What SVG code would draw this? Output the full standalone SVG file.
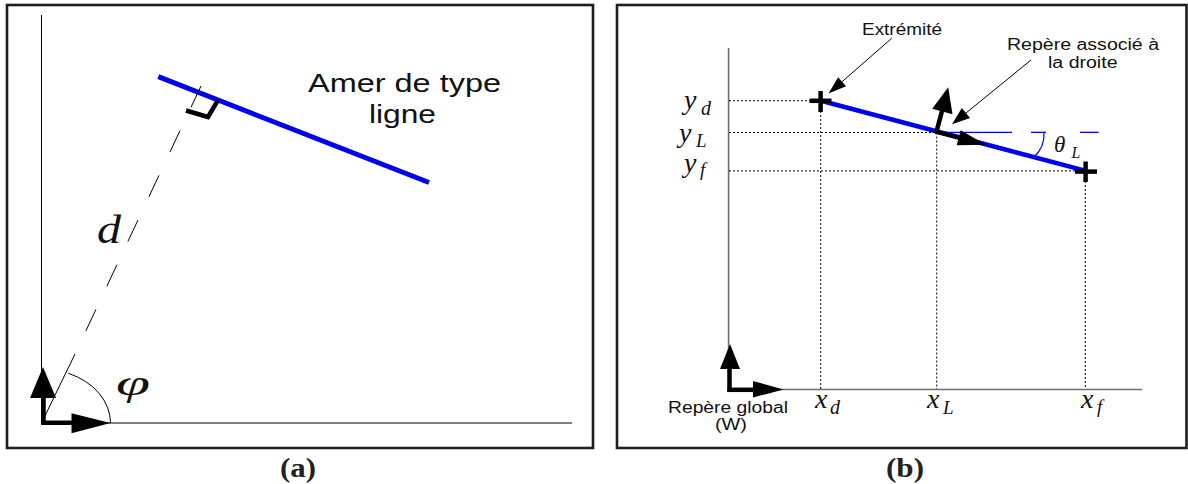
<svg xmlns="http://www.w3.org/2000/svg" width="1188" height="484" viewBox="0 0 1188 484">
<style>
.frame{fill:none;stroke:#1e1e1e;stroke-width:2.6}
.thin{stroke:#000;stroke-width:1;fill:none}
.axis{stroke:#6e6e6e;stroke-width:1.6;fill:none}
.dot{stroke:#000;stroke-width:1;stroke-dasharray:2 2;fill:none}
.thick{stroke:#000;stroke-width:4.5;fill:none}
.blue{stroke:#0000f0;fill:none}
.head{fill:#000;stroke:none}
.sans{fill:#111}
.math{font-style:italic;fill:#111}
.cap{font-weight:bold;fill:#222;font-size:28px}
</style>
<rect width="1188" height="484" fill="#fff"/>

<!-- Panel (a) -->
<g id="panel-a">
  <rect class="frame" x="7" y="5" width="586" height="443"/>
  <g id="axes-a">
    <line class="thin" x1="41.5" y1="15" x2="41.5" y2="423"/>
    <line class="thin" x1="41.5" y1="423" x2="572" y2="423"/>
  </g>
  <g id="frame-a-origin">
    <line class="thick" x1="43.5" y1="425" x2="43.5" y2="395"/>
    <polygon class="head" points="43,367 30,398 56,398"/>
    <line class="thick" x1="41.5" y1="422.7" x2="75" y2="422.7"/>
    <polygon class="head" points="71.5,413.3 110.5,423 71.5,433.3"/>
  </g>
  <g id="line-landmark">
    <line class="blue" stroke-width="5" x1="158.3" y1="76.7" x2="429" y2="182.5"/>
    <polyline class="thick" stroke-width="4" points="186,110.5 208,117 218,100.2"/>
  </g>
  <g id="distance-d">
    <line class="thin" x1="201" y1="86" x2="75" y2="354" stroke-dasharray="23.6 25.8"/>
    <line class="thin" x1="75" y1="354" x2="41.5" y2="423"/>
  </g>
  <g id="angle-phi">
    <path class="thin" d="M 68.3 373.3 A 69 54 0 0 1 110.5 423"/>
  </g>
  <g font-family="Liberation Serif, serif">
    <text class="math" x="97" y="243" font-size="39" textLength="24" lengthAdjust="spacingAndGlyphs">d</text>
    <text class="math" x="116" y="395" font-size="36" textLength="34" lengthAdjust="spacingAndGlyphs">φ</text>
  </g>
  <g id="label-amer" font-family="Liberation Sans, sans-serif">
    <text class="sans" x="308" y="91.5" font-size="26" textLength="193" lengthAdjust="spacingAndGlyphs">Amer de type</text>
    <text class="sans" x="369" y="122.5" font-size="26" textLength="67" lengthAdjust="spacingAndGlyphs">ligne</text>
  </g>
  <text class="cap" font-family="Liberation Serif, serif" x="280" y="477" textLength="36" lengthAdjust="spacingAndGlyphs">(a)</text>
</g>

<!-- Panel (b) -->
<g id="panel-b">
  <rect class="frame" x="617" y="5" width="569.5" height="443"/>
  <g id="axes-b">
    <line class="axis" x1="728.6" y1="48" x2="728.6" y2="389.5"/>
    <line class="axis" x1="728.6" y1="389.5" x2="1142" y2="389.5"/>
  </g>
  <g id="frame-global" font-family="Liberation Sans, sans-serif">
    <line class="thick" stroke-width="4.3" x1="729.5" y1="392" x2="729.5" y2="366"/>
    <polygon class="head" points="730,344 720,369 740,369"/>
    <line class="thick" stroke-width="4.3" x1="727.4" y1="389.8" x2="756" y2="389.8"/>
    <polygon class="head" points="753,381 783.5,389.5 753,397.5"/>
    <text class="sans" x="668" y="412.5" font-size="16" textLength="120" lengthAdjust="spacingAndGlyphs">Repère global</text>
    <text class="sans" x="715" y="430" font-size="16" textLength="32" lengthAdjust="spacingAndGlyphs">(W)</text>
  </g>
  <g id="projections">
    <line class="dot" x1="729" y1="100.7" x2="810" y2="100.7"/>
    <line class="dot" x1="729" y1="132.5" x2="936.5" y2="132.5"/>
    <line class="dot" x1="729" y1="170.9" x2="1076" y2="170.9"/>
    <line class="dot" x1="820.7" y1="111" x2="820.7" y2="389"/>
    <line class="dot" x1="936.7" y1="132.5" x2="936.7" y2="389"/>
    <line class="dot" x1="1085.3" y1="181" x2="1085.3" y2="389"/>
  </g>
  <g id="reference-theta">
    <line class="blue" stroke-width="1.3" x1="936.5" y1="132.3" x2="1012" y2="132.3"/>
    <line class="blue" stroke-width="1.3" x1="1031" y1="132.3" x2="1046" y2="132.3"/>
    <line class="blue" stroke-width="1.3" x1="1080" y1="132.3" x2="1098.5" y2="132.3"/>
    <path class="blue" stroke-width="1.2" d="M 1044 132.3 Q 1045 147 1034 157"/>
  </g>
  <g id="segment">
    <line class="blue" stroke-width="4.5" x1="822" y1="101" x2="1085" y2="170.7"/>
  </g>
  <g id="endpoint-d">
    <line class="thick" x1="809.5" y1="100.8" x2="831.5" y2="100.8"/>
    <line class="thick" x1="820.6" y1="91" x2="820.6" y2="112"/>
  </g>
  <g id="endpoint-f">
    <line class="thick" x1="1075" y1="171.6" x2="1097" y2="171.6"/>
    <line class="thick" x1="1085.6" y1="161.5" x2="1085.6" y2="182"/>
  </g>
  <g id="frame-line" transform="translate(936.5 131.7) rotate(14.8)">
    <line class="thick" stroke-width="4" x1="-1.5" y1="0" x2="25" y2="0"/>
    <polygon class="head" points="23,-7.5 51,0 23,8"/>
    <line class="thick" stroke-width="4" x1="0" y1="1.5" x2="0" y2="-23"/>
    <polygon class="head" points="-10,-21 0,-46 11,-21"/>
  </g>
  <g id="connectors">
    <line class="thin" x1="891.7" y1="38.3" x2="842.1" y2="81.7"/>
    <polygon class="head" points="828.5,93.5 846.05,86.2 838.15,77.2"/>
    <line class="thin" x1="1031" y1="60" x2="966" y2="113"/>
    <polygon class="head" points="952,124.3 970.05,117.98 961.85,107.9"/>
  </g>
  <g id="labels-b" font-family="Liberation Sans, sans-serif">
    <text class="sans" x="862" y="35" font-size="16" textLength="80" lengthAdjust="spacingAndGlyphs">Extrémité</text>
    <text class="sans" x="1007" y="49.5" font-size="16" textLength="152" lengthAdjust="spacingAndGlyphs">Repère associé à</text>
    <text class="sans" x="1048" y="67.5" font-size="16" textLength="69.5" lengthAdjust="spacingAndGlyphs">la droite</text>
  </g>
  <g id="math-b" font-family="Liberation Serif, serif">
    <text class="math" x="684" y="108.5" font-size="28">y</text>
    <text class="math" x="701" y="115" font-size="20">d</text>
    <text class="math" x="679" y="141.5" font-size="28">y</text>
    <text class="math" x="696" y="146.5" font-size="19">L</text>
    <text class="math" x="684" y="171.5" font-size="28">y</text>
    <text class="math" x="700" y="175.5" font-size="19">f</text>
    <text class="math" x="815" y="408" font-size="28">x</text>
    <text class="math" x="830" y="414" font-size="20">d</text>
    <text class="math" x="927" y="408" font-size="28">x</text>
    <text class="math" x="943" y="413.5" font-size="19">L</text>
    <text class="math" x="1081" y="408" font-size="28">x</text>
    <text class="math" x="1097" y="413" font-size="19">f</text>
    <text class="math" x="1054" y="151.5" font-size="23">θ</text>
    <text class="math" x="1071.5" y="158" font-size="16">L</text>
  </g>
  <text class="cap" font-family="Liberation Serif, serif" x="886" y="477" textLength="38" lengthAdjust="spacingAndGlyphs">(b)</text>
</g>
</svg>
